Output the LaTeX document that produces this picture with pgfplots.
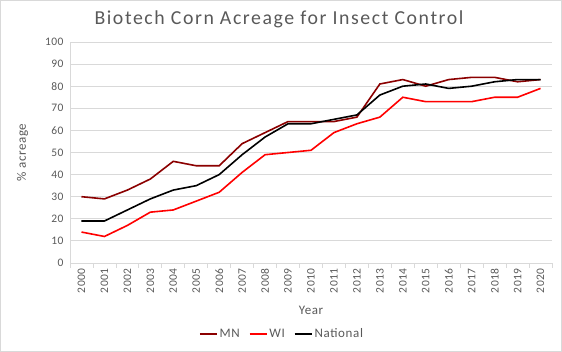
\documentclass[border=0pt]{standalone}
\usepackage{fontspec}
\setmainfont{Carlito}
\usepackage{pgfplots}
\pgfplotsset{compat=1.18}
\definecolor{txt}{HTML}{595959}
\definecolor{grd}{HTML}{D9D9D9}
\definecolor{mn}{HTML}{8B0000}
\begin{document}
\begin{tikzpicture}[x=1pt,y=1pt]
\draw[grd, line width=0.8pt] (0.4,0.4) rectangle (561.6,351.6);
\node[txt, font=\fontsize{19.8}{23}\selectfont\addfontfeatures{LetterSpace=8}] at (279,333) {Biotech Corn Acreage for Insect Control};
\begin{axis}[
  at={(70pt,89pt)}, anchor=south west,
  scale only axis, width=482pt, height=221pt,
  xmin=-0.5, xmax=20.5, ymin=0, ymax=100,
  ytick={0,10,...,100},
  xtick={0,...,20},
  xticklabels={2000,2001,2002,2003,2004,2005,2006,2007,2008,2009,2010,2011,2012,2013,2014,2015,2016,2017,2018,2019,2020},
  minor xtick={-0.5,0.5,...,20.5},
  axis x line*=bottom, axis y line*=left,
  axis line style={grd, line width=0.8pt, -},
  ymajorgrids, grid style={grd, line width=0.8pt},
  major tick length=0pt, minor tick length=5pt, tick align=outside,
  minor tick style={grd, line width=0.8pt},
  x tick label style={rotate=90, anchor=east, xshift=-2pt},
  y tick label style={xshift=-3pt},
  tick label style={txt, font=\fontsize{11.5}{13}\selectfont\addfontfeatures{LetterSpace=4}},
  /pgf/number format/assume math mode=true,
  xlabel={Year}, ylabel={\% acreage},
  xlabel style={yshift=-6pt},
  ylabel style={yshift=10pt},
  label style={txt, font=\fontsize{13}{15}\selectfont\addfontfeatures{LetterSpace=4}},
  legend style={at={(0.44,-0.32)}, anchor=center, draw=none, fill=none,
    legend columns=3, font=\fontsize{13}{15}\selectfont\addfontfeatures{LetterSpace=5}, text=txt,
    /tikz/every even column/.append style={column sep=7pt}},
  legend image code/.code={\draw[#1] (0pt,0pt) -- (17pt,0pt);},
]
\addplot[mn, line width=1.6pt] coordinates {(0,30)(1,29)(2,33)(3,38)(4,46)(5,44)(6,44)(7,54)(8,59)(9,64)(10,64)(11,64)(12,66)(13,81)(14,83)(15,80)(16,83)(17,84)(18,84)(19,82)(20,83)};
\addlegendentry{MN}
\addplot[red, line width=1.6pt] coordinates {(0,14)(1,12)(2,17)(3,23)(4,24)(5,28)(6,32)(7,41)(8,49)(9,50)(10,51)(11,59)(12,63)(13,66)(14,75)(15,73)(16,73)(17,73)(18,75)(19,75)(20,79)};
\addlegendentry{WI}
\addplot[black, line width=1.6pt] coordinates {(0,19)(1,19)(2,24)(3,29)(4,33)(5,35)(6,40)(7,49)(8,57)(9,63)(10,63)(11,65)(12,67)(13,76)(14,80)(15,81)(16,79)(17,80)(18,82)(19,83)(20,83)};
\addlegendentry{National}
\end{axis}
\end{tikzpicture}
\end{document}
